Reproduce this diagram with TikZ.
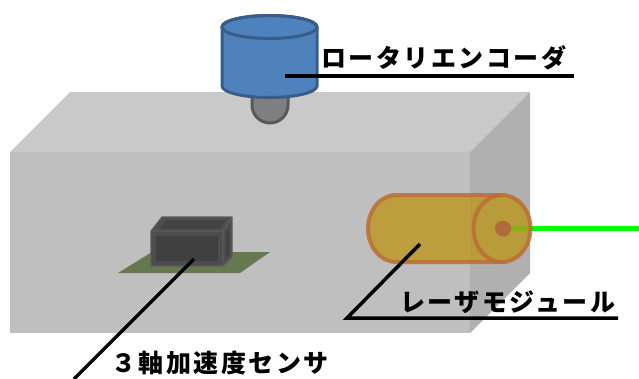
\documentclass[tikz,border=0pt]{standalone}
\usepackage{fontspec}
\newfontfamily\jpfont[LetterSpace=10]{Noto Sans CJK JP}
\begin{document}
\begin{tikzpicture}[x=1pt,y=-1pt,
  leader/.style={line width=3.5pt,black},
  label/.style={anchor=west,inner sep=0pt,font=\jpfont\bfseries\fontsize{25}{25}\selectfont},
  lasershell/.style={draw=laserline,draw opacity=0.85,line width=4pt}]
\definecolor{topgray}{HTML}{C9C9C9}
\definecolor{frontgray}{HTML}{BFBFBF}
\definecolor{sidegray}{HTML}{B0B0B0}
\definecolor{encfill}{HTML}{4F81BD}
\definecolor{encline}{HTML}{385D8A}
\definecolor{shaftfill}{HTML}{7F7F7F}
\definecolor{shaftline}{HTML}{595959}
\definecolor{pcb}{HTML}{66784F}
\definecolor{chip}{HTML}{4D4D4D}
\definecolor{chipin}{HTML}{404040}
\definecolor{chipline}{HTML}{5C5C5C}
\definecolor{laserfill}{HTML}{BC9414}
\definecolor{laserline}{HTML}{BC6E34}
\definecolor{laserdot}{HTML}{B06A3C}
\definecolor{beam}{HTML}{00FF00}
\useasboundingbox (0,0) rectangle (639,378);

% housing block
\fill[topgray] (10,152) -- (70,92) -- (530,92) -- (470,152) -- cycle;
\fill[frontgray] (10,152) rectangle (470,333);
\fill[sidegray] (470,152) -- (530,92) -- (530,273) -- (470,333) -- cycle;

% encoder shaft
\draw[fill=shaftfill,draw=shaftline,line width=3pt]
  (252,80) -- (252,105) arc[start angle=180,end angle=360,radius=18pt] -- (288,80) -- cycle;
% rotary encoder body
\draw[fill=encfill,draw=encline,line width=3pt]
  (222,27) -- (222,86) arc[start angle=180,end angle=360,x radius=47.5pt,y radius=11.5pt]
  -- (317,27) arc[start angle=0,end angle=180,x radius=47.5pt,y radius=11.5pt] -- cycle;
\draw[draw=encline,line width=3pt] (269.5,27) ellipse[x radius=47.5pt,y radius=11.5pt];

% accelerometer board and chip
\fill[pcb] (118,273) -- (152,252) -- (270,252) -- (240,273) -- cycle;
\draw[fill=chip,draw=chipline,line width=1.2pt,line join=round]
  (151,231) -- (162,217) -- (232,217) -- (232,257) -- (223,266) -- (151,266) -- cycle;
\draw[chipline,line width=1.2pt] (151,231) -- (223,231) -- (232,217) (223,231) -- (223,266);
\fill[chipin] (156,236) rectangle (218,261);
\fill[chipin!80!chip] (160,229) -- (166,220) -- (226,220) -- (220,229) -- cycle;
\fill[chipin] (226,233) -- (229,228) -- (229,254) -- (226,258) -- cycle;

% laser beam
\coordinate (beamstart) at (503,228.5);
\coordinate (beamend) at (639,228.5);
\draw[beam,line width=5pt] (beamstart) -- (beamend);

% laser module
\draw[lasershell,fill=laserfill,fill opacity=0.75]
  (396,195) -- (502,195) arc[start angle=90,end angle=-90,x radius=28.5pt,y radius=33.5pt]
  -- (396,262) arc[start angle=270,end angle=90,x radius=28pt,y radius=33.5pt] -- cycle;
\draw[lasershell]
  (502,195) arc[start angle=90,end angle=270,x radius=28.5pt,y radius=33.5pt];
\fill[laserdot] (503,228.5) circle[radius=8pt];

% labels
\node[label] (enc) at (321,58) {ロータリエンコーダ};
\node[label] (laser) at (400,302) {レーザモジュール};
\node[label] (acc) at (111,363) {３軸加速度センサ};

% leader lines
\coordinate (encpt) at (285,76);
\coordinate (encend) at (574,76);
\draw[leader] (encpt) -- (encend);
\coordinate (laserpt) at (420,244);
\coordinate (laserknee) at (347,318);
\coordinate (laserend) at (618,318);
\draw[leader,line join=miter] (laserpt) -- (laserknee) -- (laserend);
\coordinate (accpt) at (194,259);
\coordinate (accend) at (74,379);
\draw[leader] (accpt) -- (accend);
\end{tikzpicture}
\end{document}
